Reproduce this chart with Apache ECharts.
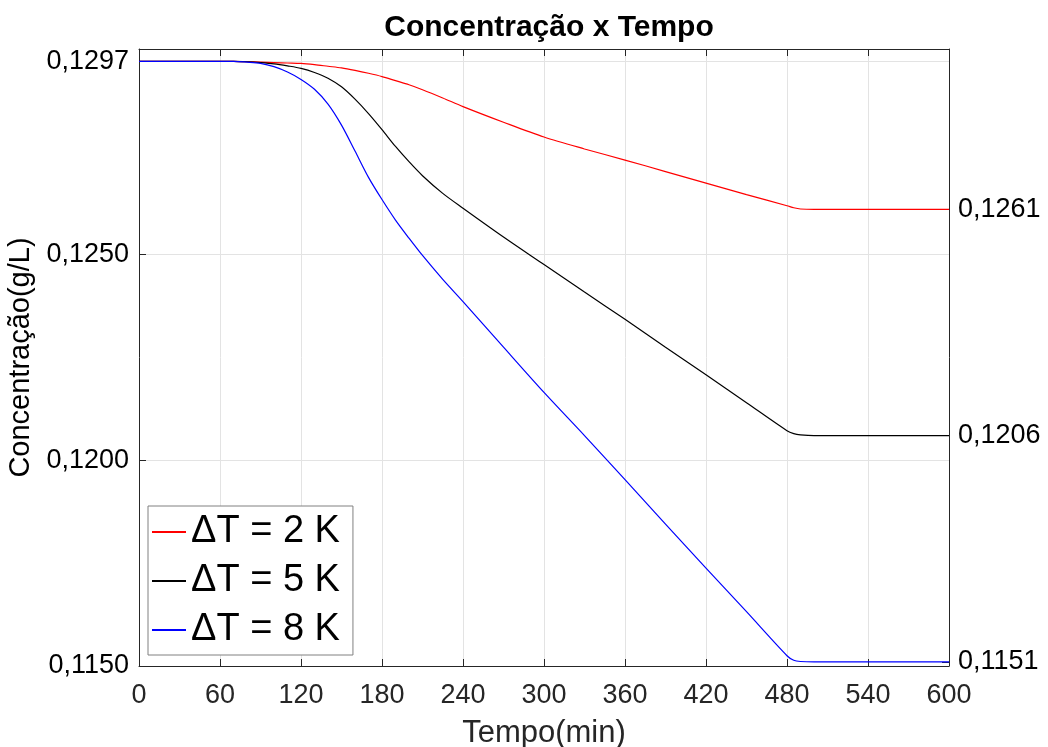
<!DOCTYPE html>
<html>
<head>
<meta charset="utf-8">
<script src="https://cdn.jsdelivr.net/npm/echarts@6/dist/echarts.min.js"></script>
<style>html,body{margin:0;padding:0;background:#fff}#c{width:1048px;height:747px}</style>
</head>
<body>
<div id="c"></div>
<script>
const times = [0, 30, 60, 70, 80, 90, 100, 110, 120, 130, 140, 150, 160, 170, 180, 190, 200, 210, 225, 240, 270, 300, 330, 360, 390, 420, 450, 480, 485, 490, 500, 540, 600];
const dT2 = [0.1297, 0.1297, 0.1297, 0.12970, 0.12969, 0.12968, 0.12967, 0.12966, 0.12965, 0.12962, 0.12958, 0.12954, 0.12948, 0.12941, 0.12933, 0.12923, 0.12913, 0.12901, 0.12881, 0.12860, 0.12822, 0.12786, 0.12757, 0.12730, 0.12702, 0.12674, 0.12646, 0.12619, 0.12614, 0.12611, 0.12610, 0.1261, 0.1261];
const dT5 = [0.1297, 0.1297, 0.1297, 0.12970, 0.12969, 0.12967, 0.12964, 0.12959, 0.12953, 0.12943, 0.12929, 0.12908, 0.12878, 0.12843, 0.12804, 0.12763, 0.12726, 0.12692, 0.12649, 0.12613, 0.12543, 0.12476, 0.12409, 0.12343, 0.12275, 0.12208, 0.12140, 0.12072, 0.12065, 0.12062, 0.12060, 0.1206, 0.1206];
const dT8 = [0.1297, 0.1297, 0.1297, 0.12970, 0.12968, 0.12965, 0.12957, 0.12944, 0.12926, 0.12902, 0.12866, 0.12815, 0.12752, 0.12688, 0.12634, 0.12584, 0.12540, 0.12498, 0.12440, 0.12386, 0.12275, 0.12165, 0.12060, 0.11953, 0.11845, 0.11738, 0.11632, 0.11525, 0.11514, 0.11511, 0.11510, 0.1151, 0.1151];
const seriesNames = ['ΔT = 2 K', 'ΔT = 5 K', 'ΔT = 8 K'];
const seriesColors = ['#ff0000', '#000000', '#0000ff'];
const leftTicks = [0.1150, 0.1200, 0.1250, 0.1297];
const rightTicks = [0.1151, 0.1206, 0.1261];
const titleText = 'Concentração x Tempo';
const xName = 'Tempo(min)';
const yName = 'Concentração(g/L)';

const FONT = '"Liberation Sans", Arial, Helvetica, sans-serif';
const fmt = v => Number(v).toFixed(4).replace('.', ',');
const allData = [dT2, dT5, dT8];

const chart = echarts.init(document.getElementById('c'), null, {renderer: 'canvas'});
chart.setOption({
  animation: false,
  backgroundColor: '#ffffff',
  textStyle: {fontFamily: FONT},
  title: {
    text: titleText, left: 544, top: 8, textAlign: 'center',
    textStyle: {fontFamily: FONT, fontWeight: 'bold', fontSize: 30, color: '#000'}
  },
  grid: {left: 139, right: 99, top: 49, bottom: 81, containLabel: false, outerBoundsMode: 'none'},
  legend: {
    orient: 'vertical', left: 148, top: 506,
    data: seriesNames,
    itemWidth: 34, itemHeight: 2, itemGap: 11,
    padding: [7, 13, 6, 4],
    borderColor: '#808080', borderWidth: 1, backgroundColor: '#ffffff',
    textStyle: {fontFamily: FONT, fontSize: 38, color: '#000'},
    icon: 'rect'
  },
  xAxis: [{
    type: 'value', min: 0, max: 600, interval: 60, position: 'bottom',
    name: xName, nameLocation: 'middle', nameGap: 52,
    nameTextStyle: {fontFamily: FONT, fontSize: 31, color: '#262626'},
    axisLine: {show: true, onZero: false, lineStyle: {color: '#262626', width: 1}},
    axisTick: {show: true, inside: true, length: 7, lineStyle: {color: '#262626'}},
    axisLabel: {fontFamily: FONT, fontSize: 27, color: '#262626', margin: 16},
    splitLine: {show: true, lineStyle: {color: '#e3e3e3', width: 1}}
  }, {
    type: 'value', min: 0, max: 600, interval: 60, position: 'top',
    axisLine: {show: true, onZero: false, lineStyle: {color: '#262626', width: 1}},
    axisTick: {show: true, inside: true, length: 7, lineStyle: {color: '#262626'}},
    axisLabel: {show: false},
    splitLine: {show: false}
  }],
  yAxis: [{
    type: 'value', min: 0.115, max: 0.130, position: 'left',
    name: yName, nameLocation: 'middle', nameGap: 100, nameRotate: 90,
    nameTextStyle: {fontFamily: FONT, fontSize: 29, color: '#000'},
    axisLine: {show: true, onZero: false, lineStyle: {color: '#262626', width: 1}},
    axisTick: {show: true, inside: true, length: 7, customValues: leftTicks, lineStyle: {color: '#262626'}},
    axisLabel: {fontFamily: FONT, fontSize: 27, color: '#000', margin: 10, customValues: leftTicks, formatter: fmt},
    splitLine: {show: true, lineStyle: {color: '#e3e3e3', width: 1}}
  }, {
    type: 'value', min: 0.115, max: 0.130, position: 'right',
    axisLine: {show: true, onZero: false, lineStyle: {color: '#262626', width: 1}},
    axisTick: {show: true, inside: true, length: 7, customValues: rightTicks, lineStyle: {color: '#262626'}},
    axisLabel: {fontFamily: FONT, fontSize: 27, color: '#000', margin: 9, customValues: rightTicks, formatter: fmt},
    splitLine: {show: false}
  }],
  series: seriesNames.map((n, i) => ({
    name: n, type: 'line', xAxisIndex: 0, yAxisIndex: 0,
    data: times.map((t, k) => [t, allData[i][k]]),
    showSymbol: false, symbol: 'none',
    smooth: 0.3,
    lineStyle: {color: seriesColors[i], width: 1.2},
    itemStyle: {color: seriesColors[i]}
  }))
});
</script>
</body>
</html>
